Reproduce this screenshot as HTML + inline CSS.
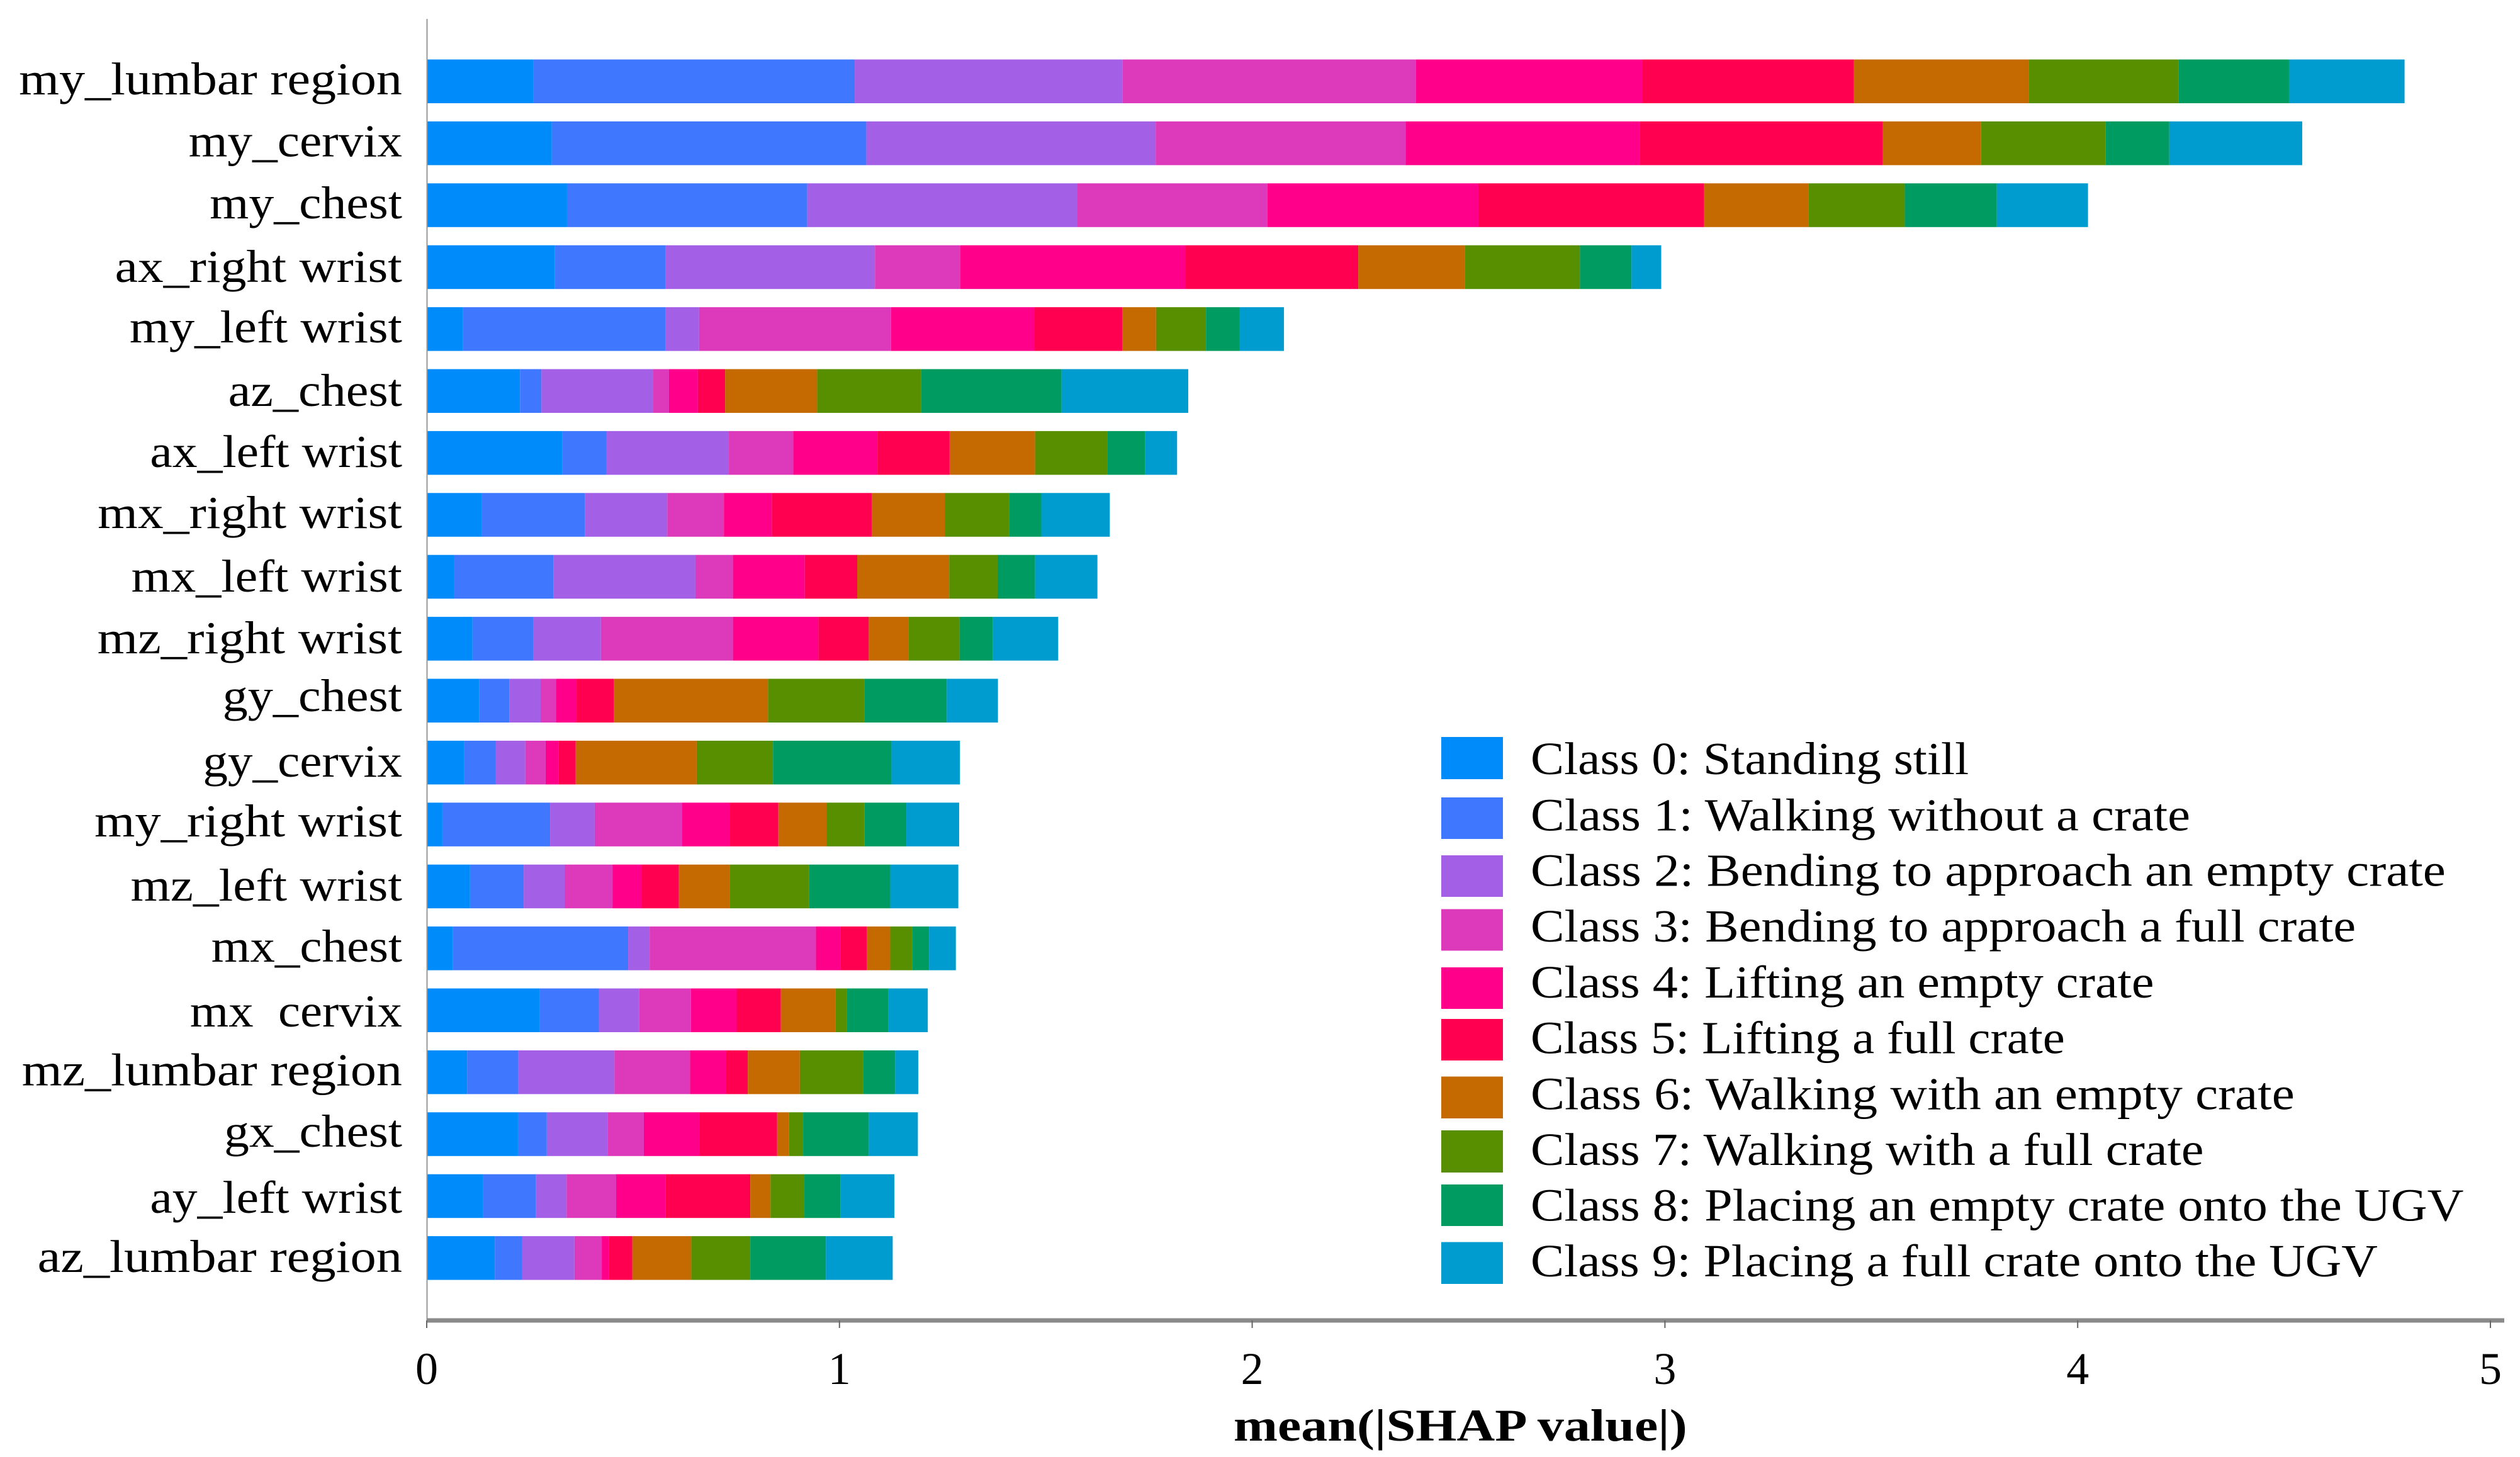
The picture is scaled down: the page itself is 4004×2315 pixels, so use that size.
<!DOCTYPE html>
<html lang="en">
<head>
<meta charset="utf-8">
<title>Mean absolute SHAP value by feature and class</title>
<style>
html,body{margin:0;padding:0;background:#fff;}
svg{display:block;}
text{font-family:"Liberation Serif",serif;fill:#000;}
.lab{font-size:73px;text-anchor:end;}
.leg{font-size:73px;}
.tick{font-size:72px;text-anchor:middle;}
.title{font-size:72px;font-weight:bold;}
</style>
</head>
<body>
<svg id="chart" xmlns="http://www.w3.org/2000/svg" width="4004" height="2315" viewBox="0 0 4004 2315">
  <rect x="0" y="0" width="4004" height="2315" fill="#ffffff"/>
  <g id="bars"></g>
  <line x1="678.5" y1="30" x2="678.5" y2="2100" stroke="#999999" stroke-width="2"/>
  <line x1="678" y1="2098" x2="3979" y2="2098" stroke="#8a8a8a" stroke-width="7"/>
  <g id="x-ticks"></g>
  <text class="title" transform="translate(1960 2289) scale(1.167 1)">mean(|SHAP value|)</text>

  <g>
    <text class="lab" transform="translate(639 150) scale(1.125 1)">my_lumbar region</text>
    <text class="lab" transform="translate(639 248.5) scale(1.087 1)">my_cervix</text>
    <text class="lab" transform="translate(639 347) scale(1.093 1)">my_chest</text>
    <text class="lab" transform="translate(639 448) scale(1.12 1)">ax_right wrist</text>
    <text class="lab" transform="translate(639 544) scale(1.107 1)">my_left wrist</text>
    <text class="lab" transform="translate(639 645) scale(1.1 1)">az_chest</text>
    <text class="lab" transform="translate(639 742) scale(1.092 1)">ax_left wrist</text>
    <text class="lab" transform="translate(639 839) scale(1.12 1)">mx_right wrist</text>
    <text class="lab" transform="translate(639 940) scale(1.1 1)">mx_left wrist</text>
    <text class="lab" transform="translate(639 1038) scale(1.132 1)">mz_right wrist</text>
    <text class="lab" transform="translate(639 1130) scale(1.1 1)">gy_chest</text>
    <text class="lab" transform="translate(639 1234) scale(1.085 1)">gy_cervix</text>
    <text class="lab" transform="translate(639 1329) scale(1.132 1)">my_right wrist</text>
    <text class="lab" transform="translate(639 1431) scale(1.114 1)">mz_left wrist</text>
    <text class="lab" transform="translate(639 1528) scale(1.084 1)">mx_chest</text>
    <text class="lab" xml:space="preserve" style="white-space:pre" transform="translate(639 1631) scale(1.08 1)">mx  cervix</text>
    <text class="lab" transform="translate(639 1724.5) scale(1.125 1)">mz_lumbar region</text>
    <text class="lab" transform="translate(639 1822) scale(1.09 1)">gx_chest</text>
    <text class="lab" transform="translate(639 1927) scale(1.092 1)">ay_left wrist</text>
    <text class="lab" transform="translate(639 2021) scale(1.13 1)">az_lumbar region</text>
  </g>

  <g>
    <g>
      <rect x="2290" y="1171" width="98" height="67" fill="#008bfb"/>
      <text class="leg" transform="translate(2432 1230) scale(1.09 1)">Class 0: Standing still</text>
    </g>
    <g>
      <rect x="2290" y="1267" width="98" height="66" fill="#3f78ff"/>
      <text class="leg" transform="translate(2432 1319.5) scale(1.106 1)">Class 1: Walking without a crate</text>
    </g>
    <g>
      <rect x="2290" y="1359" width="98" height="66" fill="#a35fe6"/>
      <text class="leg" transform="translate(2432 1407.5) scale(1.112 1)">Class 2: Bending to approach an empty crate</text>
    </g>
    <g>
      <rect x="2290" y="1444.5" width="98" height="66" fill="#dd39bb"/>
      <text class="leg" transform="translate(2432 1496) scale(1.102 1)">Class 3: Bending to approach a full crate</text>
    </g>
    <g>
      <rect x="2290" y="1537" width="98" height="66" fill="#ff008b"/>
      <text class="leg" transform="translate(2432 1585) scale(1.098 1)">Class 4: Lifting an empty crate</text>
    </g>
    <g>
      <rect x="2290" y="1619" width="98" height="66" fill="#ff0051"/>
      <text class="leg" transform="translate(2432 1673.5) scale(1.082 1)">Class 5: Lifting a full crate</text>
    </g>
    <g>
      <rect x="2290" y="1710.5" width="98" height="66.5" fill="#c46a00"/>
      <text class="leg" transform="translate(2432 1762.5) scale(1.112 1)">Class 6: Walking with an empty crate</text>
    </g>
    <g>
      <rect x="2290" y="1796" width="98" height="67" fill="#578f00"/>
      <text class="leg" transform="translate(2432 1851) scale(1.098 1)">Class 7: Walking with a full crate</text>
    </g>
    <g>
      <rect x="2290" y="1882" width="98" height="66" fill="#009b60"/>
      <text class="leg" transform="translate(2432 1939.5) scale(1.098 1)">Class 8: Placing an empty crate onto the UGV</text>
    </g>
    <g>
      <rect x="2290" y="1973.5" width="98" height="66.5" fill="#009cd0"/>
      <text class="leg" transform="translate(2432 2028) scale(1.092 1)">Class 9: Placing a full crate onto the UGV</text>
    </g>
  </g>
</svg>

<script>
const categories = ["my_lumbar region","my_cervix","my_chest","ax_right wrist","my_left wrist","az_chest","ax_left wrist","mx_right wrist","mx_left wrist","mz_right wrist","gy_chest","gy_cervix","my_right wrist","mz_left wrist","mx_chest","mx cervix","mz_lumbar region","gx_chest","ay_left wrist","az_lumbar region"];
const xTickValues = [0,1,2,3,4,5];
const xTickLabels = ["0","1","2","3","4","5"];
const classColors = ["#008bfb","#3f78ff","#a35fe6","#dd39bb","#ff008b","#ff0051","#c46a00","#578f00","#009b60","#009cd0"];
const class0 = [.259,.303,.340,.310,.088,.226,.328,.134,.067,.111,.127,.091,.038,.105,.063,.274,.098,.221,.137,.165];
const class1 = [.778,.762,.582,.268,.490,.052,.108,.249,.240,.148,.073,.076,.261,.130,.425,.143,.124,.070,.127,.066];
const class2 = [.649,.701,.654,.508,.082,.271,.296,.200,.344,.163,.076,.072,.108,.099,.052,.098,.233,.147,.075,.127];
const class3 = [.711,.606,.461,.207,.465,.038,.156,.137,.091,.320,.037,.049,.211,.116,.403,.125,.183,.088,.120,.066];
const class4 = [.549,.567,.511,.546,.348,.070,.204,.116,.174,.207,.050,.032,.117,.070,.059,.111,.087,.135,.120,.018];
const class5 = [.512,.589,.547,.418,.212,.066,.175,.242,.127,.122,.090,.041,.117,.091,.064,.107,.053,.188,.205,.056];
const class6 = [.423,.238,.253,.258,.082,.223,.207,.177,.223,.096,.374,.293,.117,.123,.057,.133,.126,.029,.049,.143];
const class7 = [.363,.302,.233,.279,.121,.252,.175,.156,.117,.124,.233,.185,.092,.192,.054,.027,.153,.034,.082,.143];
const class8 = [.268,.154,.223,.125,.082,.340,.091,.078,.091,.080,.200,.287,.101,.197,.040,.101,.078,.159,.087,.183];
const class9 = [.280,.322,.221,.072,.107,.307,.078,.166,.151,.159,.124,.166,.128,.165,.065,.095,.056,.119,.131,.162];
const seriesValues = [class0,class1,class2,class3,class4,class5,class6,class7,class8,class9];

const NS = "http://www.w3.org/2000/svg";
function xScale(v){ return 678 + 655.8 * v; }
function yScale(i){ return 94.5 + 98.4 * i; }
const barHeight = 69.5;

const barsGroup = document.getElementById("bars");
categories.forEach(function(cat, i){
  const slug = cat.replace(/[^a-zA-Z0-9]+/g, "-").toLowerCase();
  const row = document.createElementNS(NS, "g");
  
  
  let cum = 0;
  seriesValues.forEach(function(values, c){
    const v = values[i];
    const seg = document.createElementNS(NS, "rect");
    
    
    seg.setAttribute("x", xScale(cum));
    seg.setAttribute("y", yScale(i));
    seg.setAttribute("width", xScale(cum + v) - xScale(cum));
    seg.setAttribute("height", barHeight);
    seg.setAttribute("fill", classColors[c]);
    row.appendChild(seg);
    cum += v;
  });
  barsGroup.appendChild(row);
});

const tickGroup = document.getElementById("x-ticks");
xTickValues.forEach(function(t, i){
  const mark = document.createElementNS(NS, "line");
  
  
  mark.setAttribute("x1", xScale(t));
  mark.setAttribute("x2", xScale(t));
  mark.setAttribute("y1", 2098);
  mark.setAttribute("y2", 2110);
  mark.setAttribute("stroke", "#666666");
  mark.setAttribute("stroke-width", 2);
  tickGroup.appendChild(mark);
  const label = document.createElementNS(NS, "text");
  
  
  label.setAttribute("class", "tick");
  label.setAttribute("x", xScale(t));
  label.setAttribute("y", 2199);
  label.textContent = xTickLabels[i];
  tickGroup.appendChild(label);
});
</script>
</body>
</html>
